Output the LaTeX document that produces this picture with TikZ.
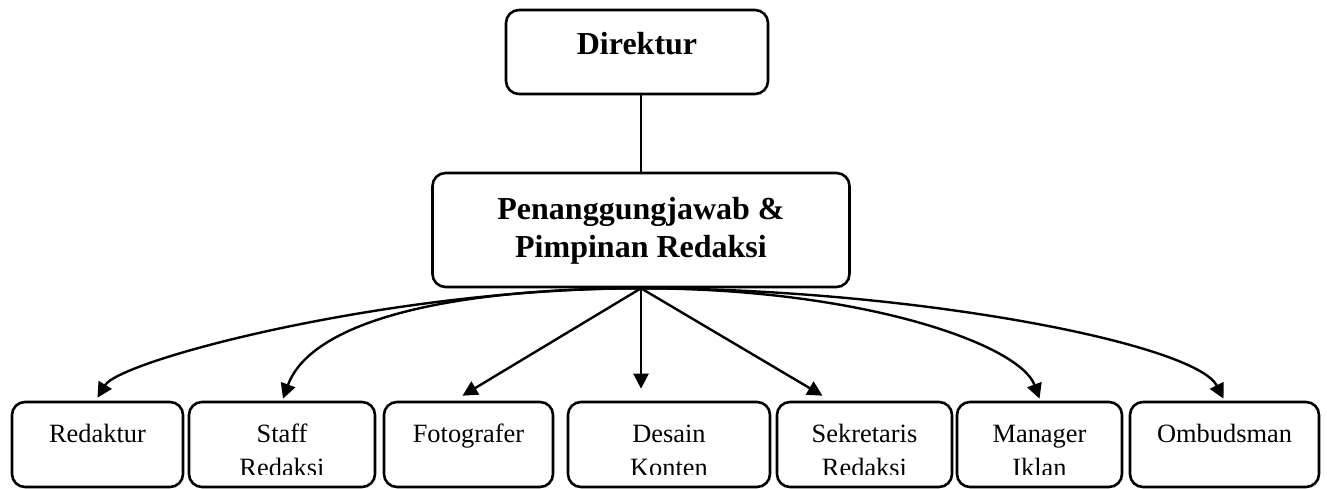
\documentclass[tikz,border=0pt]{standalone}
\usepackage{fontspec}
\setmainfont{Liberation Serif}
\usetikzlibrary{arrows.meta,calc}
\begin{document}
\begin{tikzpicture}[x=1pt,y=1pt,
  box/.style={draw,line width=2.6pt,rounded corners=13pt,inner sep=0pt},
  lowbox/.style={box,minimum height=85pt},
  conn/.style={line width=2.4pt,-{Triangle[length=15pt,width=15pt]}},
  small/.style={font=\fontsize{26.4}{34}\selectfont,align=center,inner sep=0pt,anchor=base},
  big/.style={font=\fontsize{32}{38}\selectfont\bfseries,align=center,inner sep=0pt,anchor=base}]
\useasboundingbox (0,0) rectangle (1327,489);

% boxes
\node[box,minimum width=262pt,minimum height=84pt] (dir) at (637,437) {};
\node[box,minimum width=417pt,minimum height=114pt] (pj) at (641,259) {};
\node[lowbox,minimum width=171pt] (red) at (97.5,44.5) {};
\node[lowbox,minimum width=186pt] (stf) at (282,44.5) {};
\node[lowbox,minimum width=169pt] (fot) at (468.5,44.5) {};
\node[lowbox,minimum width=202pt] (des) at (669,44.5) {};
\node[lowbox,minimum width=175pt] (sek) at (864.5,44.5) {};
\node[lowbox,minimum width=165pt] (man) at (1039.5,44.5) {};
\node[lowbox,minimum width=189pt] (omb) at (1224.5,44.5) {};

% texts
\node[big] (tdir) at (637,434) {Direktur};
\node[big] (tpj) at (641,231) {Penanggungjawab \&\\Pimpinan Redaksi};
\begin{scope}
\clip (0,14) rectangle (1327,489);
\node[small] (tred) at (97.5,46) {Redaktur};
\node[small] (tstf) at (282,12) {Staff\\Redaksi};
\node[small] (tfot) at (468.5,46) {Fotografer};
\node[small] (tdes) at (669,12) {Desain\\Konten};
\node[small] (tsek) at (864.5,12) {Sekretaris\\Redaksi};
\node[small] (tman) at (1039.5,12) {Manager\\Iklan};
\node[small] (tomb) at (1224.5,46) {Ombudsman};
\end{scope}

% connectors
\draw[line width=2.4pt] (pj.north) -- (pj.north |- dir.south);
\coordinate (ered) at ([yshift=3pt]red.north);
\coordinate (estf) at ([xshift=1pt,yshift=2pt]stf.north);
\coordinate (efot) at ([xshift=-6pt,yshift=5pt]fot.north);
\coordinate (edes) at ([yshift=12pt]des.north -| pj.south);
\coordinate (esek) at ([xshift=-42pt,yshift=5pt]sek.north);
\coordinate (eman) at ([yshift=2pt]man.north);
\coordinate (eomb) at ([xshift=-1pt,yshift=2pt]omb.north);
\draw[conn] (pj.south) to[out=180,in=59,out distance=250pt,in distance=44pt] (ered);
\draw[conn] (pj.south) to[out=180,in=70,out distance=200pt,in distance=80pt] (estf);
\draw[conn] (pj.south) -- (efot);
\draw[conn] (pj.south) -- (edes);
\draw[conn] (pj.south) -- (esek);
\draw[conn] (pj.south) to[out=0,in=110,out distance=220pt,in distance=58pt] (eman);
\draw[conn] (pj.south) to[out=0,in=117,out distance=270pt,in distance=62pt] (eomb);
\end{tikzpicture}
\end{document}
